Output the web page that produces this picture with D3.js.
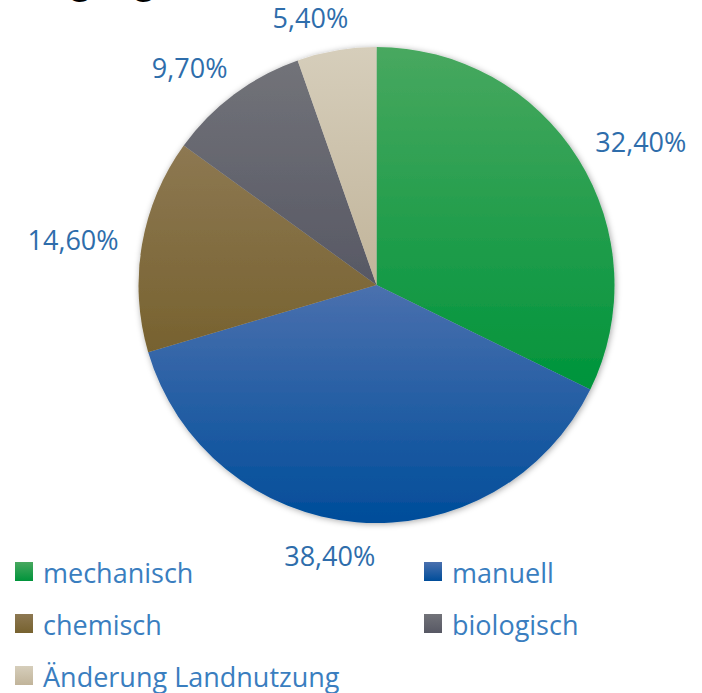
<!DOCTYPE html>
<html>
<head>
<meta charset="utf-8">
<script src="https://cdn.jsdelivr.net/npm/d3@7"></script>
<style>
  body { margin: 0; background: #fff; }
  svg { display: block; font-family: "Open Sans", sans-serif; }
</style>
</head>
<body>
<div id="chart"></div>
<script>
const categories = ["mechanisch", "manuell", "chemisch", "biologisch", "Änderung Landnutzung"];
const shares = [32.4, 38.4, 14.6, 9.7, 5.4];
const shareLabels = ["32,40%", "38,40%", "14,60%", "9,70%", "5,40%"];
const colorsTop = ["#48a85f", "#4a70ae", "#8d7852", "#727379", "#d6cebb"];
const colorsBottom = ["#00943b", "#004d9a", "#77622f", "#575864", "#c1b49a"];

const width = 702, height = 693;
const cx = 376.5, cy = 285, radius = 238;

const svg = d3.select('#chart')
  .append('svg')
    .attr('width', width)
    .attr('height', height);

const defs = svg.append('defs');

// one vertical gradient per slice (bounding box units)
categories.forEach((c, i) => {
  const g = defs.append('linearGradient')
    .attr('id', 'grad' + i)
    .attr('x1', 0).attr('y1', 0)
    .attr('x2', 0).attr('y2', 1);
  g.append('stop').attr('offset', '0%').attr('stop-color', colorsTop[i]);
  g.append('stop').attr('offset', '100%').attr('stop-color', colorsBottom[i]);
});

defs.append('filter')
    .attr('id', 'shadow')
    .attr('x', '-10%').attr('y', '-10%')
    .attr('width', '120%').attr('height', '120%')
  .append('feDropShadow')
    .attr('dx', 1).attr('dy', 1)
    .attr('stdDeviation', 3)
    .attr('flood-color', '#000')
    .attr('flood-opacity', 0.35);

// title, mostly cut off above the picture
svg.append('text')
  .attr('x', 154)
  .attr('y', -7)
  .attr('text-anchor', 'end')
  .style('font-size', '36px')
  .attr('fill', '#000')
  .text('Beseitigung');

const pie = d3.pie().sort(null).value(d => d);
const arcs = pie(shares);
const arc = d3.arc().innerRadius(0).outerRadius(radius);

const pieGroup = svg.append('g')
  .attr('transform', `translate(${cx},${cy})`);

pieGroup.append('g')
  .attr('filter', 'url(#shadow)')
  .selectAll('path')
  .data(arcs)
  .join('path')
    .attr('d', arc)
    .attr('fill', (d, i) => `url(#grad${i})`);

// percentage labels outside the slices
const labelRadius = 262;
pieGroup.selectAll('text.label')
  .data(arcs)
  .join('text')
    .attr('class', 'label')
    .attr('text-anchor', 'middle')
    .attr('dominant-baseline', 'central')
    .style('font-size', '27px')
    .attr('fill', '#2e6dab')
    .text((d, i) => shareLabels[i])
    .each(function(d) {
      const a = (d.startAngle + d.endAngle) / 2;
      const s = Math.sin(a), c = Math.cos(a);
      const box = this.getBBox();
      const x = labelRadius * s + box.width / 2 * (0.5 * s + 0.5 * Math.sign(s));
      const y = -labelRadius * c - 9 * c;
      d3.select(this).attr('x', x).attr('y', y);
    });

// legend
const legendCol = d3.scaleOrdinal().domain([0, 1]).range([15, 424]);
const legendRow = d3.scaleLinear().domain([0, 1]).range([572, 624]);

const legend = svg.append('g')
  .selectAll('g')
  .data(categories)
  .join('g')
    .attr('transform', (d, i) => `translate(${legendCol(i % 2)},${legendRow(Math.floor(i / 2))})`);

legend.append('rect')
  .attr('x', 0)
  .attr('y', -10)
  .attr('width', 18)
  .attr('height', 19)
  .attr('fill', (d, i) => `url(#grad${i})`);

legend.append('text')
  .attr('x', 28)
  .attr('y', 0)
  .attr('dominant-baseline', 'central')
  .style('font-size', '27px')
  .attr('fill', '#3a7ebf')
  .text(d => d);
</script>
</body>
</html>
